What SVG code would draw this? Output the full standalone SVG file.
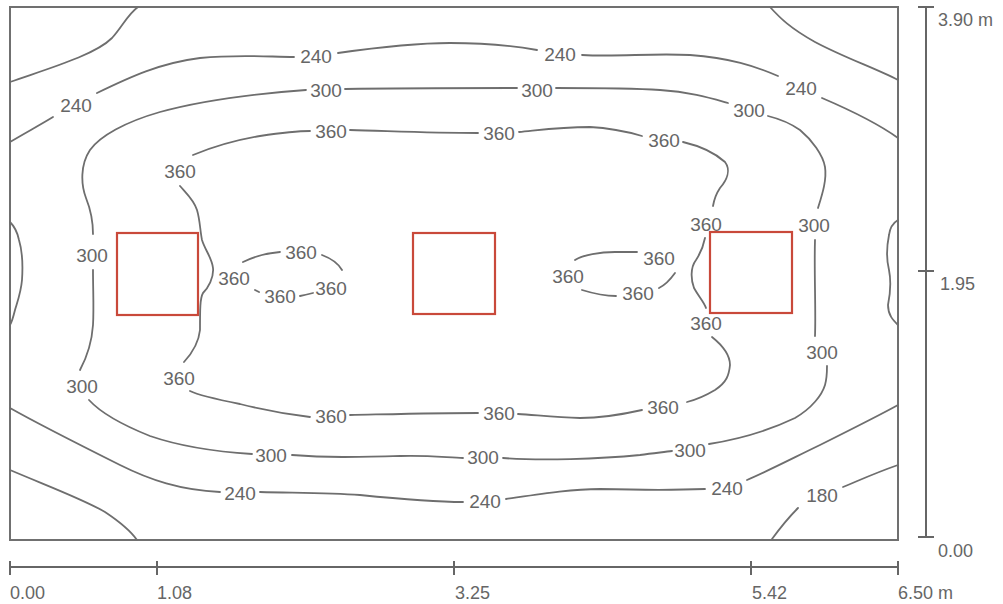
<svg xmlns="http://www.w3.org/2000/svg" width="1003" height="604" viewBox="0 0 1003 604">
<style>
.bg{fill:#ffffff}
.frame{fill:none;stroke:#707070;stroke-width:2}
.c{fill:none;stroke:#6e6e6e;stroke-width:1.8;stroke-linecap:round;stroke-linejoin:round}
.lum{fill:none;stroke:#c9493a;stroke-width:2.2}
.lbl{font-family:"Liberation Sans",Arial,sans-serif;font-size:19px;fill:#666666;text-anchor:middle}
.ax{fill:none;stroke:#666666;stroke-width:2}
.sc{font-family:"Liberation Sans",Arial,sans-serif;font-size:18px;fill:#666666}
</style>
<rect class="bg" x="0" y="0" width="1003" height="604"/>
<g id="frame"><rect class="frame" x="10" y="7" width="888" height="533"/></g>
<g id="contours">
<path class="c" d="M10,82 C50,68 95,55 112,38 C122,27 128,14 138,7"/>
<path class="c" d="M770,7 C780,18 790,28 815,42 C845,58 875,68 898,80"/>
<path class="c" d="M10,470 C50,487 85,500 105,512 C120,522 130,530 137,540"/>
<path class="c" d="M898,465 C875,473 860,480 843,487"/>
<path class="c" d="M798,508 C790,516 780,528 772,539"/>
<path class="c" d="M10,142 C25,133 40,125 53,117"/>
<path class="c" d="M97,93 C130,77 160,63 200,58 C240,54 270,57 294,57"/>
<path class="c" d="M338,53 C380,47 420,43 450,43 C490,43 520,47 537,50"/>
<path class="c" d="M582,55 C620,57 650,53 690,55 C730,58 755,66 778,76"/>
<path class="c" d="M822,98 C850,110 880,125 898,138"/>
<path class="c" d="M306,90 C250,94 200,101 160,112 C125,122 100,136 90,150 C80,165 81,185 86,198 C90,208 93,218 93,234"/>
<path class="c" d="M93,270 C93,290 94,310 93,325 C92,340 88,355 80,370"/>
<path class="c" d="M89,400 C100,412 120,424 150,436 C185,448 220,452 252,454"/>
<path class="c" d="M292,455 C330,458 360,457 400,456 C430,455 450,458 463,458"/>
<path class="c" d="M503,458 C540,461 600,459 640,455 C655,453 665,452 672,451"/>
<path class="c" d="M709,444 C740,439 770,430 795,418 C812,408 822,395 825,385 C827,378 827,372 827,366"/>
<path class="c" d="M815,336 C816,310 814,270 815,240"/>
<path class="c" d="M818,208 C822,195 827,180 825,167 C823,155 812,140 800,130 C790,123 780,119 768,116"/>
<path class="c" d="M728,103 C710,98 690,92 660,90 C630,88 590,88 556,88"/>
<path class="c" d="M517,88 C470,88 400,88 345,89"/>
<path class="c" d="M193,155 C210,148 230,141 260,136 C280,133 295,131 310,131"/>
<path class="c" d="M350,130 C390,131 430,133 478,133"/>
<path class="c" d="M519,132 C540,130 560,127 590,127 C610,128 625,131 642,136"/>
<path class="c" d="M683,142 C700,146 715,153 725,162 C731,170 727,180 720,188 C716,194 714,200 713,206"/>
<path class="c" d="M705,238 C703,248 700,254 696,260 C690,268 691,280 694,288 C699,297 704,302 706,308"/>
<path class="c" d="M712,337 C722,345 730,355 730,365 C729,375 727,382 715,390 C705,396 695,400 687,402"/>
<path class="c" d="M642,410 C620,415 600,418 580,418 C555,417 535,415 518,414"/>
<path class="c" d="M478,413 C440,413 400,414 350,415"/>
<path class="c" d="M310,417 C285,414 260,409 240,404 C220,400 200,396 190,391"/>
<path class="c" d="M180,186 C186,193 194,200 197,210 C200,220 200,230 202,240 C205,250 212,258 213,268 C214,278 208,288 203,293 C200,298 200,310 200,330 C199,340 195,350 184,362"/>
<path class="c" d="M243,262 C255,256 268,253 280,252"/>
<path class="c" d="M322,255 C330,258 338,263 342,270"/>
<path class="c" d="M300,296 C305,295 309,294 313,293"/>
<path class="c" d="M255,290 L259,292"/>
<path class="c" d="M575,260 C583,255 600,252 615,252 C625,252 632,252 637,252"/>
<path class="c" d="M675,273 C670,280 665,285 659,288"/>
<path class="c" d="M582,290 C595,294 605,296 616,296"/>
<path class="c" d="M10,222 C14,226 17,230 19,240 C22,250 23,265 22,280 C21,292 18,300 15,310 C13,318 12,322 10,325"/>
<path class="c" d="M898,220 C893,223 890,227 889,235 C887,245 886,258 889,270 C891,280 890,295 888,305 C888,315 893,320 898,325"/>
<path class="c" d="M10,408 C40,425 80,445 120,465 C150,480 180,490 220,492"/>
<path class="c" d="M260,492 C300,493 330,493 360,495 C400,499 430,502 463,502"/>
<path class="c" d="M506,499 C540,494 570,489 600,489 C640,490 680,490 705,489"/>
<path class="c" d="M747,480 C770,470 795,457 820,445 C850,430 880,415 898,405"/>
</g>
<g id="luminaires">
<rect id="lum1" class="lum" x="117" y="233" width="81" height="82"/>
<rect id="lum2" class="lum" x="413" y="233" width="82" height="81"/>
<rect id="lum3" class="lum" x="710" y="232" width="82" height="81"/>
</g>
<g id="labels">
<text class="lbl" x="76" y="112">240</text>
<text class="lbl" x="316" y="63">240</text>
<text class="lbl" x="560" y="61">240</text>
<text class="lbl" x="801" y="95">240</text>
<text class="lbl" x="326" y="97">300</text>
<text class="lbl" x="537" y="97">300</text>
<text class="lbl" x="749" y="117">300</text>
<text class="lbl" x="331" y="138">360</text>
<text class="lbl" x="499" y="140">360</text>
<text class="lbl" x="664" y="147">360</text>
<text class="lbl" x="180" y="178">360</text>
<text class="lbl" x="92" y="262">300</text>
<text class="lbl" x="234" y="285">360</text>
<text class="lbl" x="301" y="259">360</text>
<text class="lbl" x="331" y="295">360</text>
<text class="lbl" x="280" y="303">360</text>
<text class="lbl" x="568" y="283">360</text>
<text class="lbl" x="659" y="265">360</text>
<text class="lbl" x="638" y="300">360</text>
<text class="lbl" x="706" y="231">360</text>
<text class="lbl" x="814" y="232">300</text>
<text class="lbl" x="706" y="330">360</text>
<text class="lbl" x="822" y="359">300</text>
<text class="lbl" x="82" y="393">300</text>
<text class="lbl" x="179" y="385">360</text>
<text class="lbl" x="331" y="423">360</text>
<text class="lbl" x="499" y="420">360</text>
<text class="lbl" x="663" y="414">360</text>
<text class="lbl" x="271" y="462">300</text>
<text class="lbl" x="483" y="464">300</text>
<text class="lbl" x="690" y="457">300</text>
<text class="lbl" x="240" y="500">240</text>
<text class="lbl" x="485" y="508">240</text>
<text class="lbl" x="727" y="495">240</text>
<text class="lbl" x="822" y="502">180</text>
</g>
<g id="scales">
<path class="ax" d="M926,7 L926,537 M918,7 L934,7 M918,271 L934,271 M918,537 L934,537"/>
<path class="ax" d="M10,567 L898,567 M10,561 L10,575 M157,561 L157,575 M454,561 L454,575 M751,561 L751,575 M898,561 L898,575"/>
<text class="sc" x="938" y="26">3.90 m</text>
<text class="sc" x="940" y="290">1.95</text>
<text class="sc" x="938" y="557">0.00</text>
<text class="sc" x="10" y="599">0.00</text>
<text class="sc" x="157" y="599">1.08</text>
<text class="sc" x="455" y="599">3.25</text>
<text class="sc" x="752" y="599">5.42</text>
<text class="sc" x="898" y="599">6.50 m</text>
</g>
</svg>
